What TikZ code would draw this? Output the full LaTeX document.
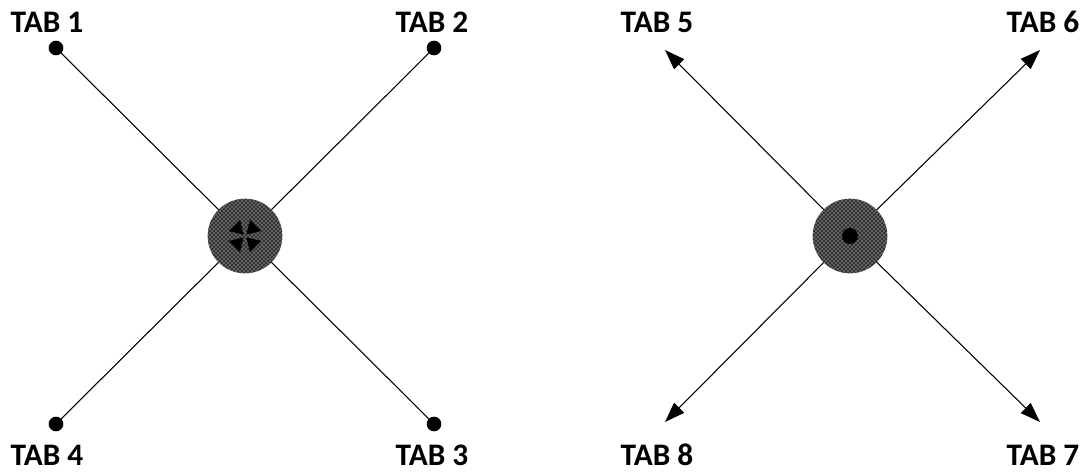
\documentclass[tikz,border=0pt]{standalone}
\usepackage{fontspec}
\setmainfont{Carlito}
\usetikzlibrary{calc,positioning,patterns,arrows.meta,backgrounds}

\begin{document}
\begin{tikzpicture}[x=0.75pt,y=-0.75pt,
    hub/.style={circle, minimum size=56pt, inner sep=0pt,
        preaction={fill=black!80}, pattern=crosshatch dots, pattern color=white},
    tabdot/.style={circle, fill=black, minimum size=11pt, inner sep=0pt},
    tabtip/.style={inner sep=0pt, minimum size=0pt},
    tablabel/.style={font=\bfseries\fontsize{23.5}{26}\selectfont, inner sep=0pt},
    spoke/.style={line width=0.8pt},
    outarrow/.style={spoke, -{Triangle[length=15pt, width=10.5pt]}}]
        \useasboundingbox (0,0) rectangle (1088,475);
        % Left: tabs pulled in to the centre
        \node[hub] (hubL) at (245,236) {};
        \node[tabdot] (t1) at (56,48) {};
        \node[tabdot] (t2) at (434,48) {};
        \node[tabdot] (t3) at (434,424) {};
        \node[tabdot] (t4) at (56,424) {};
        \begin{scope}[on background layer]
        \foreach \t in {t1,t2,t3,t4} {
            \draw[spoke] (hubL.center) -- (\t.center);
        }
        \end{scope}
        \foreach \a in {45,135,225,315} {
            \fill[black] ($(hubL.center)+(\a:2)$) -- ($(hubL.center)+(\a+28:17)$) -- ($(hubL.center)+(\a-28:17)$) -- cycle;
        }
        \node[tablabel] (l1) at (47,22) {TAB 1};
        \node[tablabel] (l2) at (432,22) {TAB 2};
        \node[tablabel] (l3) at (432,455) {TAB 3};
        \node[tablabel] (l4) at (47,455) {TAB 4};
        % Right: tabs pushed out from the centre
        \node[hub] (hubR) at (850,236) {};
        \node[circle, fill=black, minimum size=12pt, inner sep=0pt] (dotR) at (hubR.center) {};
        \node[tabtip] (t5) at (665,50) {};
        \node[tabtip] (t6) at (1040,50) {};
        \node[tabtip] (t7) at (1040,422) {};
        \node[tabtip] (t8) at (665,422) {};
        \begin{scope}[on background layer]
        \foreach \t in {t5,t6,t7,t8} {
            \draw[outarrow] (dotR.center) -- (\t.center);
        }
        \end{scope}
        \node[tablabel] (l5) at (657,22) {TAB 5};
        \node[tablabel] (l6) at (1043,22) {TAB 6};
        \node[tablabel] (l7) at (1043,455) {TAB 7};
        \node[tablabel] (l8) at (657,455) {TAB 8};
\end{tikzpicture}
\end{document}
